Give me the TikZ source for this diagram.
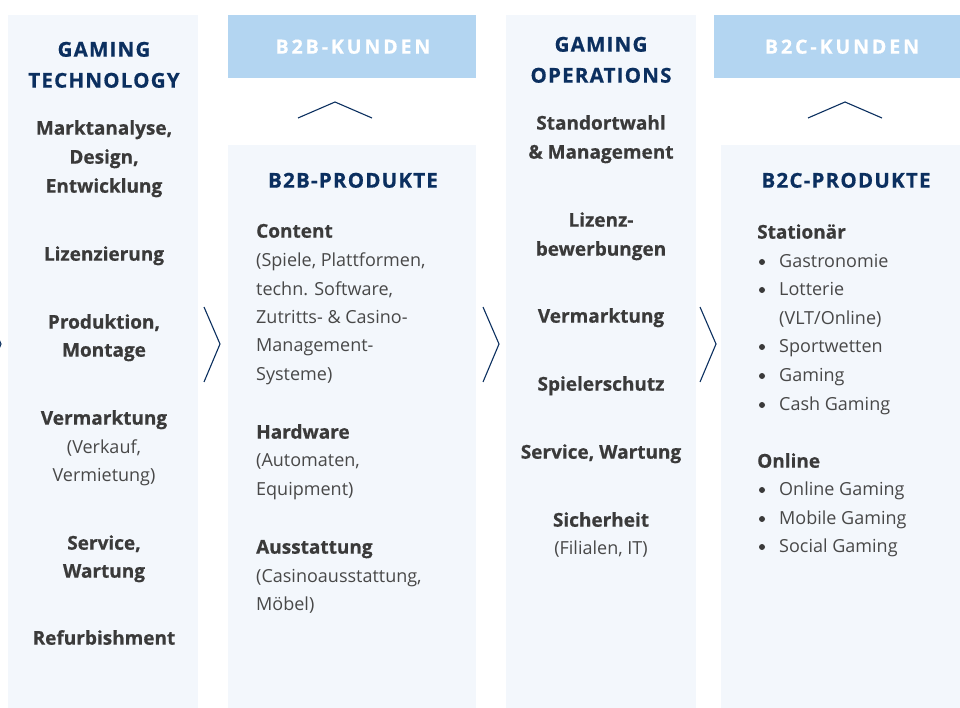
\documentclass[tikz,border=0pt]{standalone}
\usepackage{fontspec}
\setmainfont{Open Sans}[BoldFeatures={FakeBold=0.6}]
\definecolor{colbg}{HTML}{F3F7FC}
\definecolor{kunden}{HTML}{B3D5F1}
\definecolor{navy}{HTML}{0B2F5F}
\definecolor{txt}{HTML}{3A3A3A}
\definecolor{txtl}{HTML}{484848}
\begin{document}
\begin{tikzpicture}[x=1pt,y=-1pt,
  panel/.style={fill=colbg,draw=none},
  kbox/.style={fill=kunden,draw=none},
  chev/.style={draw=navy,line width=1.1pt,line join=miter},
  ttl/.style={anchor=mid,yshift=-4pt,text=navy,inner sep=0pt,font=\fontsize{20.5}{24}\selectfont\bfseries\addfontfeature{LetterSpace=6}},
  ktl/.style={anchor=mid,yshift=-4pt,text=white,inner sep=0pt,font=\fontsize{19.5}{24}\selectfont\bfseries\addfontfeature{LetterSpace=15}},
  bl/.style={anchor=mid,yshift=-4pt,text=txt,font=\fontsize{19}{22}\selectfont\bfseries,inner sep=0pt},
  rl/.style={anchor=mid,yshift=-4pt,text=txtl,font=\fontsize{18}{22}\selectfont,inner sep=0pt},
  bll/.style={bl,anchor=mid west},
  rll/.style={rl,anchor=mid west},
  dot/.style={circle,fill=txt,inner sep=0pt,minimum size=6pt}
]
\useasboundingbox (0,0) rectangle (960,708);
% panels
\fill[panel] (8,15) rectangle (198,708);
\fill[kbox] (228,15) rectangle (476,78);
\fill[panel] (228,145) rectangle (476,708);
\fill[panel] (506,15) rectangle (696,708);
\fill[kbox] (714,15) rectangle (960,78);
\fill[panel] (721,145) rectangle (960,708);
% chevrons
\draw[chev] (-15,307) -- (1,344) -- (-15,382);
\draw[chev] (204,307) -- (220,344) -- (204,382);
\draw[chev] (483,307) -- (499,344) -- (483,382);
\draw[chev] (700,307) -- (716,344) -- (700,382);
\draw[chev] (298,118) -- (335,102) -- (372,118);
\draw[chev] (808,118) -- (845,102) -- (882,118);
% column 1
\node[ttl] (t1a) at (104,50) {GAMING};
\node[ttl] (t1b) at (104,81) {TECHNOLOGY};
\node[bl] (a1) at (104,128) {Marktanalyse,};
\node[bl] (a2) at (104,157) {Design,};
\node[bl] (a3) at (104,186) {Entwicklung};
\node[bl] (a4) at (104,254) {Lizenzierung};
\node[bl] (a5) at (104,322) {Produktion,};
\node[bl] (a6) at (104,350) {Montage};
\node[bl] (a7) at (104,418) {Vermarktung};
\node[rl] (a8) at (104,447) {(Verkauf,};
\node[rl] (a9) at (104,475) {Vermietung)};
\node[bl] (a10) at (104,543) {Service,};
\node[bl] (a11) at (104,571) {Wartung};
\node[bl] (a12) at (104,638) {Refurbishment};
% B2B Kunden / Produkte
\node[ktl] (k1) at (353,47) {B2B-KUNDEN};
\node[ttl] (p1) at (353,181) {B2B-PRODUKTE};
\node[bll] (b1) at (256,231) {Content};
\node[rll] (b2) at (256,260) {(Spiele, Plattformen,};
\node[rll] (b3) at (256,289) {techn. Software,};
\node[rll] (b4) at (256,317) {Zutritts- \& Casino-};
\node[rll] (b5) at (256,345) {Management-};
\node[rll] (b6) at (256,374) {Systeme)};
\node[bll] (b7) at (256,432) {Hardware};
\node[rll] (b8) at (256,460) {(Automaten,};
\node[rll] (b9) at (256,489) {Equipment)};
\node[bll] (b10) at (256,547) {Ausstattung};
\node[rll] (b11) at (256,576) {(Casinoausstattung,};
\node[rll] (b12) at (256,604) {Möbel)};
% column 3
\node[ttl] (t3a) at (601,45) {GAMING};
\node[ttl] (t3b) at (601,76) {OPERATIONS};
\node[bl] (c1) at (601,123) {Standortwahl};
\node[bl] (c2) at (601,152) {\& Management};
\node[bl] (c3) at (601,220) {Lizenz-};
\node[bl] (c4) at (601,249) {bewerbungen};
\node[bl] (c5) at (601,316) {Vermarktung};
\node[bl] (c6) at (601,384) {Spielerschutz};
\node[bl] (c7) at (601,452) {Service, Wartung};
\node[bl] (c8) at (601,520) {Sicherheit};
\node[rl] (c9) at (601,548) {(Filialen, IT)};
% B2C Kunden / Produkte
\node[ktl] (k2) at (842,47) {B2C-KUNDEN};
\node[ttl] (p2) at (846,181) {B2C-PRODUKTE};
\node[bll] (d1) at (757,232) {Stationär};
\foreach \n/\y/\t in {d2/261/Gastronomie,d3/289/Lotterie,d5/346/Sportwetten,d6/375/Gaming,d7/404/Cash Gaming,d9/489/Online Gaming,d10/518/Mobile Gaming,d11/546/Social Gaming}{
  \node[dot] (\n dot) at (762,\y+1) {};
  \node[rll] (\n) at (779,\y) {\t};
}
\node[rll] (d4) at (779,318) {(VLT/Online)};
\node[bll] (d8) at (757,461) {Online};
\end{tikzpicture}
\end{document}
